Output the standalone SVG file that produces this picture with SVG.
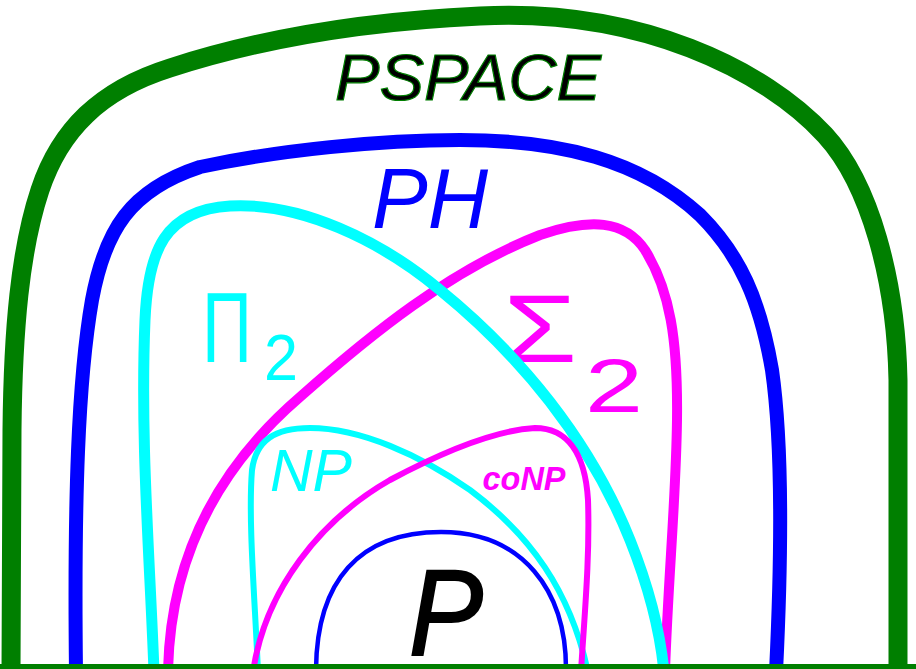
<svg xmlns="http://www.w3.org/2000/svg" width="916" height="669" viewBox="0 0 916 669">
<style>
.c{fill:none;stroke-linecap:round;stroke-linejoin:round}
.lbl{font-family:"Liberation Sans","DejaVu Sans",sans-serif;font-style:italic}
.sym{font-family:"Liberation Sans","DejaVu Sans",sans-serif}
</style>
<rect x="0" y="0" width="916" height="669" fill="#ffffff"/>
<g id="pspace">
<path class="c" stroke="#007f00" stroke-width="19" d="M 11,672 L 12,430 C 13,330 20,250 40,190 C 60,130 100,90 170,68 C 250,42 350,22 480,16 C 640,8 765,70 825,135 C 870,184 896,280 898,380 L 898,672"/>
<text class="lbl" x="468" y="100" font-size="64" text-anchor="middle" textLength="266" lengthAdjust="spacingAndGlyphs" fill="#000000" stroke="#007f00" stroke-width="1.2">PSPACE</text>
</g>
<g id="ph">
<path class="c" stroke="#0000ff" stroke-width="14" d="M 76,672 C 74,500 78,380 92,300 C 105,230 130,190 200,167 C 280,150 380,140 460,140 C 560,140 640,160 700,215 C 740,255 760,300 772,370 C 782,440 782,550 776,672"/>
<text class="lbl" x="430" y="228" font-size="86" text-anchor="middle" textLength="116" lengthAdjust="spacingAndGlyphs" fill="#0000ff">PH</text>
</g>
<g id="sigma2">
<path class="c" stroke="#ff00ff" stroke-width="10" d="M 168,672 C 170,560 215,470 300,397 C 370,335 450,270 540,235 C 590,218 625,220 645,250 C 670,290 678,340 677,420 C 676,500 668,580 665,672"/>
<text class="sym" fill="#ff00ff"><tspan x="503" y="362" font-size="96" textLength="74" lengthAdjust="spacingAndGlyphs">Σ</tspan><tspan x="585" y="412" font-size="76" textLength="58" lengthAdjust="spacingAndGlyphs">2</tspan></text>
</g>
<g id="pi2">
<path class="c" stroke="#00ffff" stroke-width="11" d="M 154,672 C 150,560 140,440 145,320 C 148,250 165,210 230,206 C 300,202 380,240 440,290 C 520,355 590,440 630,540 C 650,590 660,630 664,672"/>
<text class="sym" fill="#00ffff"><tspan x="202" y="362" font-size="100" textLength="50" lengthAdjust="spacingAndGlyphs">Π</tspan><tspan x="264" y="380" font-size="64" textLength="34" lengthAdjust="spacingAndGlyphs">2</tspan></text>
</g>
<g id="np">
<path class="c" stroke="#00ffff" stroke-width="6" d="M 258,672 C 255,600 248,520 252,470 C 256,440 275,428 310,428 C 360,428 420,455 470,490 C 530,535 570,590 588,672"/>
<text class="lbl" x="311" y="491" font-size="60" text-anchor="middle" textLength="82" lengthAdjust="spacingAndGlyphs" fill="#00ffff">NP</text>
</g>
<g id="conp">
<path class="c" stroke="#ff00ff" stroke-width="6" d="M 253,672 C 265,590 320,520 390,480 C 450,448 500,430 535,428 C 565,428 585,450 588,500 C 590,560 584,620 581,672"/>
<text class="lbl" x="524" y="490" font-size="34" font-weight="bold" text-anchor="middle" textLength="83" lengthAdjust="spacingAndGlyphs" fill="#ff00ff">coNP</text>
</g>
<g id="p">
<path class="c" stroke="#0000ff" stroke-width="4.5" d="M 316,672 C 316,580 360,532 441,532 C 522,532 567,590 566,672"/>
<text class="lbl" x="446" y="655" font-size="122" text-anchor="middle" textLength="74" lengthAdjust="spacingAndGlyphs" fill="#000000" stroke="#000000" stroke-width="2">P</text>
</g>
<g id="base">
<line x1="0" y1="666.5" x2="916" y2="666.5" stroke="#007f00" stroke-width="5"/>
</g>
</svg>
